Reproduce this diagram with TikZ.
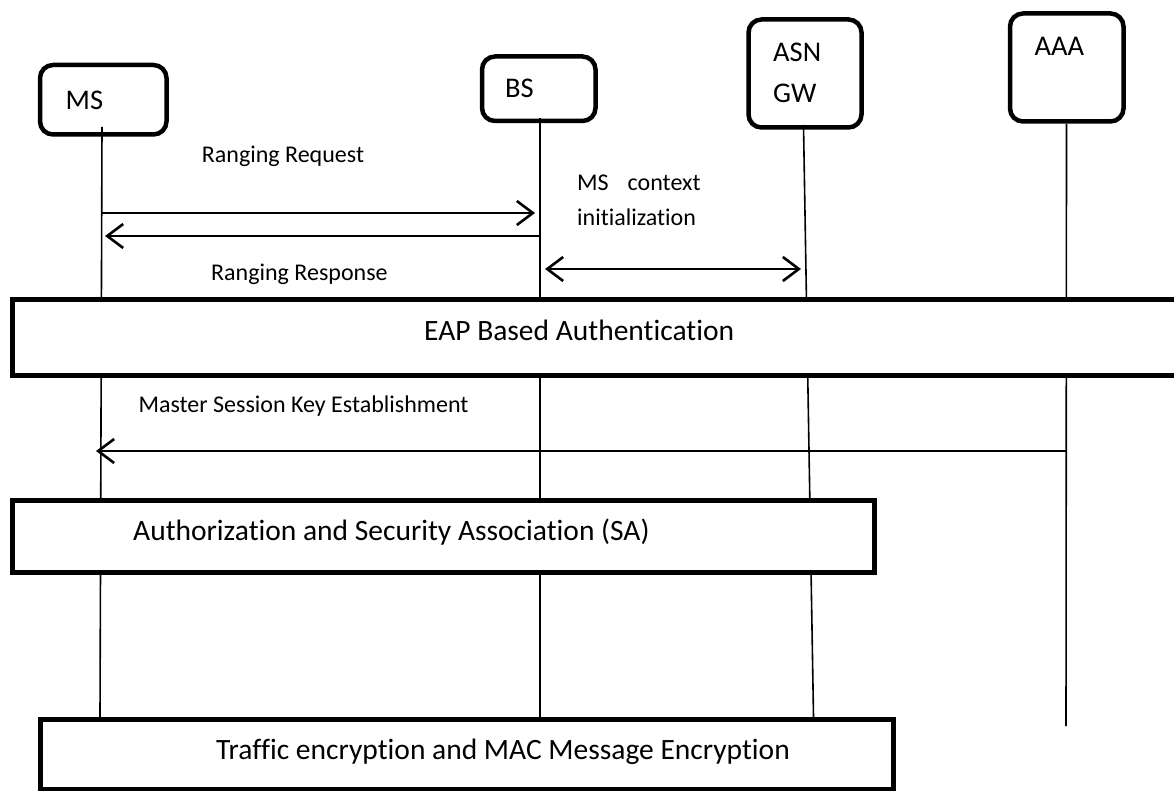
\documentclass[tikz,border=0pt]{standalone}
\usepackage{fontspec}
\setmainfont[Ligatures=NoCommon]{Carlito}
\usetikzlibrary{arrows.meta}
\begin{document}
\begin{tikzpicture}[x=1pt,y=-1pt,
  actor/.style={draw, line width=4.5pt, rounded corners=13pt, fill=white, inner sep=0pt},
  band/.style={draw, line width=5pt, fill=white, inner sep=0pt},
  life/.style={line width=1.6pt},
  msg/.style={line width=2.6pt, -{Straight Barb[length=16pt,width=24pt]}},
  dmsg/.style={line width=2.6pt, {Straight Barb[length=16pt,width=24pt]}-{Straight Barb[length=16pt,width=24pt]}},
  big/.style={anchor=base west, inner sep=0pt, font=\fontsize{29.5}{35}\selectfont},
  who/.style={anchor=base west, inner sep=0pt, font=\fontsize{28.5}{34}\selectfont},
  small/.style={anchor=base west, inner sep=0pt, font=\fontsize{24}{29}\selectfont}]
\useasboundingbox (0,0) rectangle (1174,791);
\fill[white] (0,0) rectangle (1174,791);

% actor boxes
\node[actor, minimum width=126.5pt, minimum height=69.5pt] (ms) at (103.25,99.75) {};
\node[actor, minimum width=113.5pt, minimum height=64.5pt] (bs) at (538.75,88.75) {};
\node[actor, minimum width=113pt, minimum height=108pt] (asn) at (805,73.5) {};
\node[actor, minimum width=113.5pt, minimum height=108pt] (aaa) at (1066.75,67.5) {};

\node[who] (msl) at (65.5,109.3) {MS};
\node[who] (bsl) at (505,98) {BS};
\node[who] (asnl) at (773,62) {ASN};
\node[who] (gwl) at (773,103) {GW};
\node[who] (aaal) at (1034.5,56) {AAA};

% lifelines
\coordinate (msTop) at (102,127);
\coordinate (msBot) at (100,717);
\coordinate (bsTop) at (540,118);
\coordinate (bsBot) at (540,717);
\coordinate (asnTop) at (803.5,125);
\coordinate (asnBot) at (813.5,717);
\coordinate (aaaTop) at (1066.5,124);
\coordinate (aaaBot) at (1066,726);
\draw[life] (msTop) -- (msBot);
\draw[life] (bsTop) -- (bsBot);
\draw[life] (asnTop) -- (asnBot);
\draw[life] (aaaTop) -- (aaaBot);

% bands
\node[band, minimum width=1188pt, minimum height=76pt] (eap) at (606,337.5) {};
\node[band, minimum width=862.5pt, minimum height=72pt] (auth) at (443.25,536.5) {};
\node[band, minimum width=853pt, minimum height=70pt] (traf) at (466.5,754) {};

\node[big] (eapl) at (424,340) {EAP Based Authentication};
\node[big] (authl) at (133,540.7) {Authorization and Security Association (SA)};
\node[big] (trafl) at (216,759) {Traffic encryption and MAC Message Encryption};

% messages
\coordinate (rq1) at (102,213);
\coordinate (rq2) at (535,213);
\coordinate (rs1) at (540,236);
\coordinate (rs2) at (105,236);
\coordinate (cx1) at (545,269);
\coordinate (cx2) at (801,269);
\coordinate (mk1) at (1066,451);
\coordinate (mk2) at (96,451);
\draw[msg] (rq1) -- (rq2);
\draw[msg] (rs1) -- (rs2);
\draw[dmsg] (cx1) -- (cx2);
\draw[msg] (mk1) -- (mk2);

\node[small] (rql) at (201.7,163) {Ranging Request};
\node[small] (rsl) at (211,280) {Ranging Response};
\node[small] (cxl1) at (577,191) {MS\hspace{19pt}context};
\node[small] (cxl2) at (577,226) {initialization};
\node[small] (mkl) at (138.3,412.3) {Master Session Key Establishment};
\end{tikzpicture}
\end{document}
